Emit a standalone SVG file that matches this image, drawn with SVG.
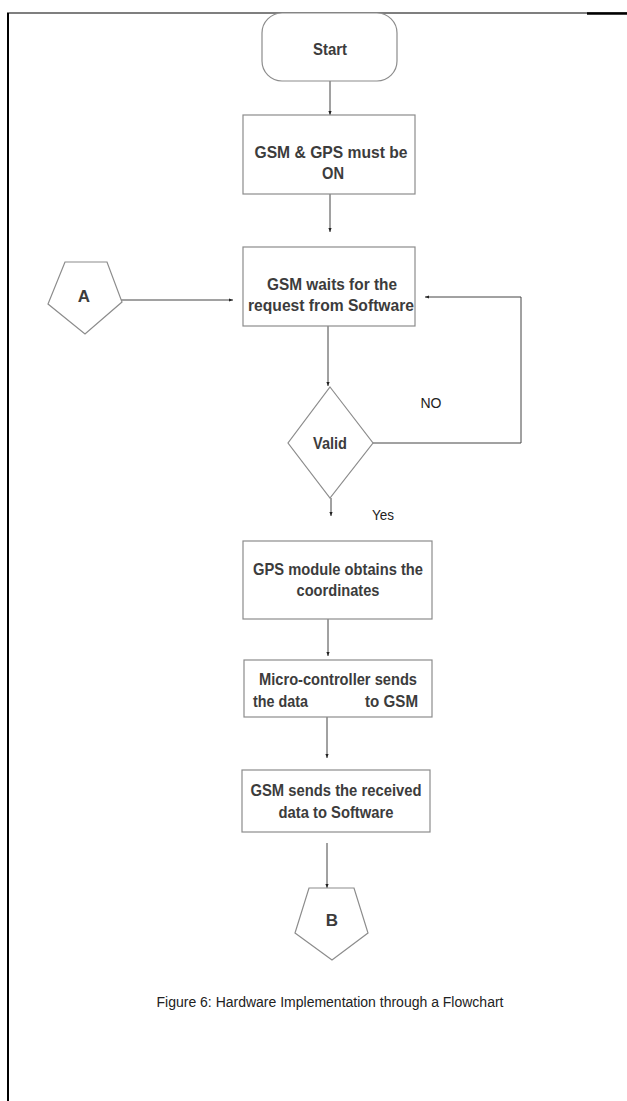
<svg xmlns="http://www.w3.org/2000/svg" width="627" height="1101" viewBox="0 0 627 1101">
<style>
.shape{fill:#fff;stroke:#8c8c8c;stroke-width:1.2}
.lbl{font-family:"Liberation Sans",Arial,sans-serif;font-weight:bold;font-size:17px;fill:#3c3c3c;text-anchor:middle}
.reg{font-family:"Liberation Sans",Arial,sans-serif;font-size:15px;fill:#222;text-anchor:middle}
.cap{font-family:"Liberation Sans",Arial,sans-serif;font-size:14px;fill:#222;text-anchor:middle}
.conn{fill:none;stroke:#444;stroke-width:1}
</style>
<defs>
<marker id="arr" viewBox="0 0 10 10" refX="10" refY="5" markerWidth="4" markerHeight="4" orient="auto" markerUnits="strokeWidth">
<path d="M0,1 L10,5 L0,9 z" fill="#222"/>
</marker>
</defs>
<rect width="627" height="1101" fill="#fff"/>
<g id="frame">
<line x1="7" y1="13" x2="627" y2="13" stroke="#000" stroke-width="1.2"/>
<line x1="587" y1="13.5" x2="627" y2="13.5" stroke="#000" stroke-width="2.5"/>
<line x1="8" y1="13" x2="8" y2="1101" stroke="#000" stroke-width="2"/>
</g>
<g id="connectors">
<line class="conn" x1="330" y1="81" x2="330" y2="115" marker-end="url(#arr)"/>
<line class="conn" x1="330" y1="194" x2="330" y2="232" marker-end="url(#arr)"/>
<line class="conn" x1="121" y1="300" x2="233" y2="300" marker-end="url(#arr)"/>
<line class="conn" x1="328" y1="325" x2="328" y2="386" marker-end="url(#arr)"/>
<polyline class="conn" points="373,443 521,443 521,297 425,297" marker-end="url(#arr)"/>
<line class="conn" x1="331" y1="498" x2="331" y2="516" marker-end="url(#arr)"/>
<line class="conn" x1="328" y1="619" x2="328" y2="656" marker-end="url(#arr)"/>
<line class="conn" x1="327" y1="717" x2="327" y2="758" marker-end="url(#arr)"/>
<line class="conn" x1="327" y1="843" x2="327" y2="888" marker-end="url(#arr)"/>
</g>
<g id="start">
<rect class="shape" x="262" y="13" width="135" height="68" rx="20" ry="20"/>
<text class="lbl" x="330" y="55" textLength="34" lengthAdjust="spacingAndGlyphs">Start</text>
</g>
<g id="power">
<rect class="shape" x="243" y="115" width="172" height="79"/>
<text class="lbl" x="331" y="158" textLength="153" lengthAdjust="spacingAndGlyphs">GSM &amp; GPS must be</text>
<text class="lbl" x="333" y="179" textLength="22" lengthAdjust="spacingAndGlyphs">ON</text>
</g>
<g id="connA">
<polygon class="shape" points="65,262 107,262 122,302 85,334 48,304"/>
<text class="lbl" x="84" y="302">A</text>
</g>
<g id="wait">
<rect class="shape" x="243" y="247" width="172" height="79"/>
<text class="lbl" x="332" y="290" textLength="130" lengthAdjust="spacingAndGlyphs">GSM waits for the</text>
<text class="lbl" x="331" y="311" textLength="166" lengthAdjust="spacingAndGlyphs">request from Software</text>
</g>
<g id="valid">
<polygon class="shape" points="330,387 373,443 330,498 288,443"/>
<text class="lbl" x="330" y="449" textLength="34" lengthAdjust="spacingAndGlyphs">Valid</text>
</g>
<text class="reg" x="431" y="408" textLength="21" lengthAdjust="spacingAndGlyphs">NO</text>
<text class="reg" x="383" y="520" textLength="22" lengthAdjust="spacingAndGlyphs">Yes</text>
<g id="gps">
<rect class="shape" x="243" y="541" width="189" height="78"/>
<text class="lbl" x="338" y="575" textLength="170" lengthAdjust="spacingAndGlyphs">GPS module obtains the</text>
<text class="lbl" x="338" y="596" textLength="83" lengthAdjust="spacingAndGlyphs">coordinates</text>
</g>
<g id="micro">
<rect class="shape" x="244" y="660" width="188" height="57"/>
<text class="lbl" x="338" y="685" textLength="158" lengthAdjust="spacingAndGlyphs">Micro-controller sends</text>
<text class="lbl" x="280.5" y="707" textLength="55" lengthAdjust="spacingAndGlyphs">the data</text>
<text class="lbl" x="391.5" y="707" textLength="53" lengthAdjust="spacingAndGlyphs">to GSM</text>
</g>
<g id="send">
<rect class="shape" x="242" y="770" width="188" height="62"/>
<text class="lbl" x="336" y="796" textLength="171" lengthAdjust="spacingAndGlyphs">GSM sends the received</text>
<text class="lbl" x="336" y="818" textLength="115" lengthAdjust="spacingAndGlyphs">data to Software</text>
</g>
<g id="connB">
<polygon class="shape" points="309,888 354,888 368,933 332,960 295,933"/>
<text class="lbl" x="332" y="926">B</text>
</g>
<text class="cap" x="330" y="1007" textLength="347" lengthAdjust="spacingAndGlyphs">Figure 6: Hardware Implementation through a Flowchart</text>
</svg>
